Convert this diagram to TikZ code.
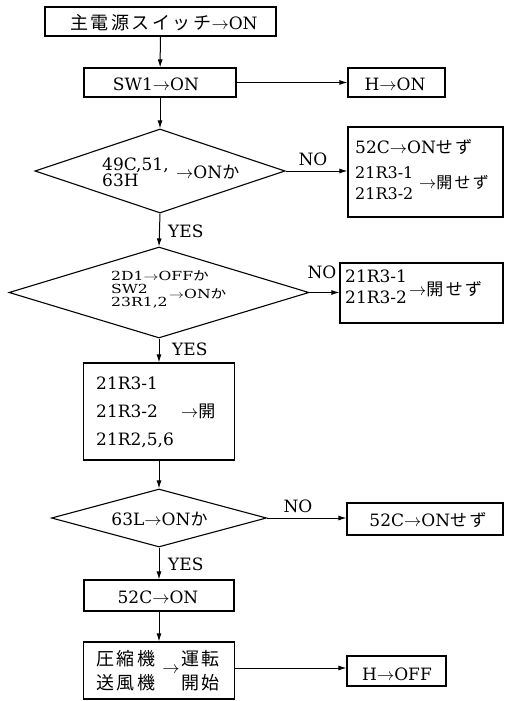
\documentclass[tikz,border=0pt]{standalone}
\usepackage{fontspec}
\usepackage{graphicx}
\setmainfont{DejaVu Serif}
\newfontfamily\jp{Noto Sans CJK JP}[LetterSpace=14]
\usetikzlibrary{shapes.geometric,arrows.meta}
\newcommand{\myarr}{$\rightarrow$}
\newcommand{\widen}[1]{\scalebox{1.25}[1]{#1}}
\tikzset{
  box/.style={draw,line width=1.1pt,inner sep=0pt},
  dia/.style={draw,diamond,line width=1.1pt,inner sep=0pt},
  conn/.style={line width=1pt,-{Latex[length=8pt,width=5pt]}},
  txt/.style={inner sep=0pt,font=\fontsize{17}{20}\selectfont},
  mid/.style={inner sep=0pt,font=\fontsize{16}{19}\selectfont},
  sml/.style={inner sep=0pt,font=\fontsize{12.5}{15}\selectfont},
  jbig/.style={inner sep=0pt,font=\fontsize{18}{21}\selectfont\jp},
}
\begin{document}
\begin{tikzpicture}[x=1pt,y=-1pt]
\useasboundingbox (0,0) rectangle (504,701);
% boxes
\node[box,minimum width=231pt,minimum height=29pt] (b1) at (160.5,21.5) {};
\node[box,minimum width=152pt,minimum height=29pt] (b2) at (160,82.5) {};
\node[box,minimum width=97pt,minimum height=29pt] (h1) at (396.5,82.5) {};
\node[dia,minimum width=250pt,minimum height=84pt] (d1) at (160,171) {};
\node[box,minimum width=155pt,minimum height=90pt] (n1) at (425.5,172) {};
\node[dia,minimum width=300pt,minimum height=91pt] (d2) at (159,292.5) {};
\node[box,minimum width=163pt,minimum height=60pt] (n2) at (421.5,293) {};
\node[box,minimum width=151pt,minimum height=97pt] (b3) at (159,411.5) {};
\node[dia,minimum width=215pt,minimum height=58pt] (d3) at (159,518) {};
\node[box,minimum width=156pt,minimum height=32pt] (n3) at (425,519) {};
\node[box,minimum width=150pt,minimum height=31pt] (b4) at (159,595.5) {};
\node[box,minimum width=151pt,minimum height=57pt] (b5) at (159,670.5) {};
\node[box,minimum width=99pt,minimum height=30pt] (h2) at (396.5,671) {};
% texts
\node[txt,anchor=base] (t1) at (164,30) {{\fontsize{18}{21}\selectfont\jp 主電源スイッチ}\myarr ON};
\node[txt,anchor=base] (t2) at (156,90) {SW1\myarr ON};
\node[txt,anchor=base] (t3) at (395,90) {H\myarr ON};
\node[txt,anchor=base west] (t4a) at (102,170) {49C,51,};
\node[txt,anchor=base west] (t4b) at (102,186) {63H};
\node[txt,anchor=base west] (t4c) at (176,178) {\myarr ON{\jp か}};
\node[txt,anchor=base west] (t5a) at (355,153) {52C\myarr ON{\jp せず}};
\node[mid,anchor=base west] (t5b) at (355,178) {21R3-1};
\node[mid,anchor=base west] (t5c) at (355,199) {21R3-2};
\node[mid,anchor=base west] (t5d) at (419,188) {\myarr{\jp 開せず}};
\node[sml,anchor=base west] (t6a) at (111,280) {\widen{2D1\myarr OFF{\jp か}}};
\node[sml,anchor=base west] (t6b) at (111,293) {\widen{SW2}};
\node[sml,anchor=base west] (t6c) at (111,306) {\widen{23R1,2}};
\node[sml,anchor=base west] (t6d) at (169,298) {\widen{\myarr ON{\jp か}}};
\node[txt,anchor=base west] (t7a) at (345,282) {21R3-1};
\node[txt,anchor=base west] (t7b) at (345,303) {21R3-2};
\node[txt,anchor=base west] (t7c) at (409,295) {\myarr{\jp 開せず}};
\node[txt,anchor=base west] (t8a) at (96,389) {21R3-1};
\node[txt,anchor=base west] (t8b) at (96,417) {21R3-2};
\node[txt,anchor=base west] (t8c) at (181,417) {\myarr{\jp 開}};
\node[txt,anchor=base west] (t8d) at (96,445) {21R2,5,6};
\node[txt,anchor=base] (t9) at (159.5,525) {63L\myarr ON{\jp か}};
\node[txt,anchor=base] (t10) at (428,526) {52C\myarr ON{\jp せず}};
\node[txt,anchor=base] (t11) at (158,603) {52C\myarr ON};
\node[jbig,anchor=base west] (t12a) at (96,665) {圧縮機};
\node[jbig,anchor=base west] (t12b) at (96,689) {送風機};
\node[txt] (t12c) at (171,670) {\myarr};
\node[jbig,anchor=base west] (t12d) at (181,665) {運転};
\node[jbig,anchor=base west] (t12e) at (181,689) {開始};
\node[txt,anchor=base] (t13) at (397,680) {H\myarr OFF};
% labels
\node[txt,anchor=base] (no1) at (313,165) {NO};
\node[txt,anchor=base] (no2) at (322,278) {NO};
\node[txt,anchor=base] (no3) at (298,512) {NO};
\node[txt,anchor=base west] (y1) at (168,237) {YES};
\node[txt,anchor=base west] (y2) at (172,355) {YES};
\node[txt,anchor=base west] (y3) at (168,570) {YES};
% connectors
\draw[conn] (b1) -- (b2);
\draw[conn] (b2) -- (h1);
\draw[conn] (b2) -- (d1.north);
\draw[conn] (d1.east) -- (n1.west |- d1.east);
\draw[conn] (d1.south) -- (d2.north);
\draw[conn] (d2.east) -- (n2.west |- d2.east);
\draw[conn] (d2.south) -- (b3.north);
\draw[conn] (b3) -- (d3.north);
\draw[conn] (d3.east) -- (n3.west |- d3.east);
\draw[conn] (d3.south) -- (b4.north);
\draw[conn] (b4) -- (b5);
\draw[conn] (b5.east |- 0,668) -- (h2.west |- 0,668);
\end{tikzpicture}
\end{document}
